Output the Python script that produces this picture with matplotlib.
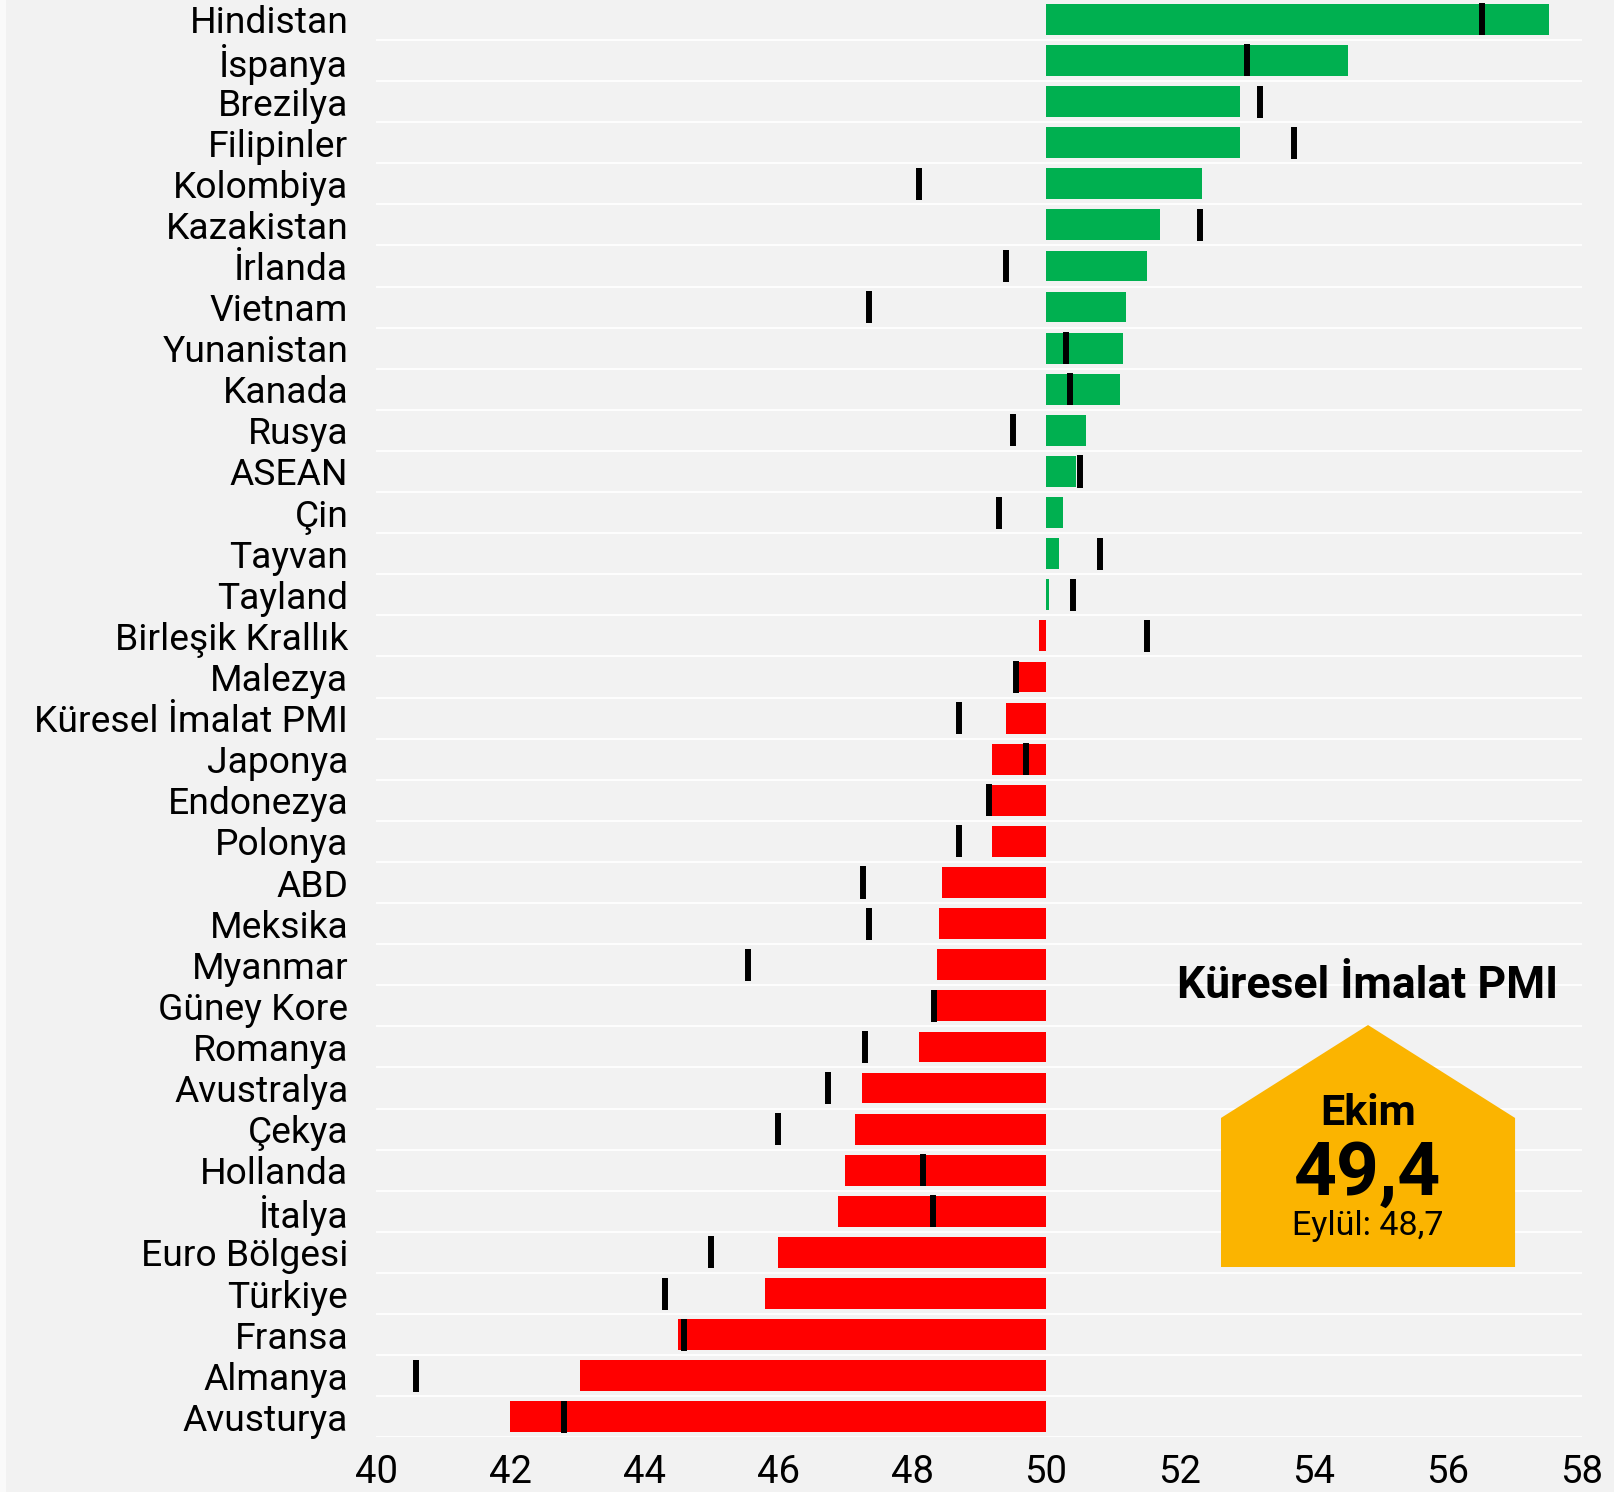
import numpy as np
import matplotlib
matplotlib.use("Agg")
import matplotlib.pyplot as plt
from matplotlib.patches import Polygon, Rectangle

plt.rcParams['font.family'] = ['Roboto', 'DejaVu Sans']

# Ekim (bar) ve Eylül (siyah çizgi) PMI değerleri
countries = ["Hindistan", "İspanya", "Brezilya", "Filipinler", "Kolombiya",
             "Kazakistan", "İrlanda", "Vietnam", "Yunanistan", "Kanada",
             "Rusya", "ASEAN", "Çin", "Tayvan", "Tayland",
             "Birleşik Krallık", "Malezya", "Küresel İmalat PMI", "Japonya",
             "Endonezya", "Polonya", "ABD", "Meksika", "Myanmar",
             "Güney Kore", "Romanya", "Avustralya", "Çekya", "Hollanda",
             "İtalya", "Euro Bölgesi", "Türkiye", "Fransa", "Almanya",
             "Avusturya"]
october = [57.5, 54.5, 52.9, 52.9, 52.33,
           51.7, 51.5, 51.2, 51.15, 51.1,
           50.6, 50.45, 50.25, 50.2, 50.05,
           49.9, 49.55, 49.4, 49.2,
           49.2, 49.2, 48.45, 48.4, 48.37,
           48.3, 48.1, 47.25, 47.15, 47.0,
           46.9, 46.0, 45.8, 44.5, 43.05,
           42.0]
september = [56.5, 53.0, 53.2, 53.7, 48.1,
             52.3, 49.4, 47.35, 50.3, 50.35,
             49.5, 50.5, 49.3, 50.8, 50.4,
             51.5, 49.55, 48.7, 49.7,
             49.15, 48.7, 47.27, 47.35, 45.55,
             48.33, 47.3, 46.75, 46.0, 48.17,
             48.32, 45.0, 44.32, 44.6, 40.6,
             42.8]
xticks = [40, 42, 44, 46, 48, 50, 52, 54, 56, 58]

BASE = 50
BG = "#f2f2f2"

fig = plt.figure(figsize=(16.14, 14.92), dpi=100, facecolor=BG)
fig.patches.append(Rectangle((0, 0), 6 / 1614, 1, transform=fig.transFigure,
                             facecolor="#fafafa", edgecolor="none", zorder=0))
ax = fig.add_axes([0.233, 0.0366, 0.7472, 0.9642])
ax.set_facecolor(BG)

y = np.arange(len(countries))
oct_arr = np.array(october)
colors = ["#00b050" if v >= BASE else "#ff0000" for v in oct_arr]

for b in np.arange(len(countries)) + 0.5:
    ax.axhline(b, color="white", lw=1.3, zorder=1)

ax.barh(y, oct_arr - BASE, left=BASE, height=0.75, color=colors, zorder=2)
ax.vlines(september, y - 0.39, y + 0.39, color="black", lw=4.3, zorder=3)

ax.set_xlim(40, 58)
ax.set_ylim(len(countries) - 0.5, -0.5)
ax.set_xticks(xticks)
ax.set_xticklabels([str(t) for t in xticks], fontsize=27.5)
ax.set_yticks(y)
ax.set_yticklabels(countries, fontsize=26.8)
ax.tick_params(axis="both", length=0, colors="black")
ax.tick_params(axis="x", pad=12)
ax.tick_params(axis="y", pad=20)
for s in ax.spines.values():
    s.set_visible(False)

# Küresel PMI kutusu
house = Polygon([(0.7565, 0.1508), (0.7565, 0.2507), (0.8476, 0.3130),
                 (0.9387, 0.2507), (0.9387, 0.1508)], closed=True,
                transform=fig.transFigure, facecolor="#fbb400",
                edgecolor="none", zorder=5)
fig.patches.append(house)
fig.text(0.8476, 0.339, "Küresel İmalat PMI", ha="center", va="center",
         fontsize=32, fontweight="semibold")
fig.text(0.8476, 0.2535, "Ekim", ha="center", va="center",
         fontsize=31, fontweight="bold", zorder=6)
fig.text(0.8476, 0.2125, "49,4", ha="center", va="center",
         fontsize=54, fontweight="bold", zorder=6)
fig.text(0.8476, 0.178, "Eylül: 48,7", ha="center", va="center",
         fontsize=24.5, zorder=6)

fig.savefig("out.png", dpi=100, facecolor=BG)
